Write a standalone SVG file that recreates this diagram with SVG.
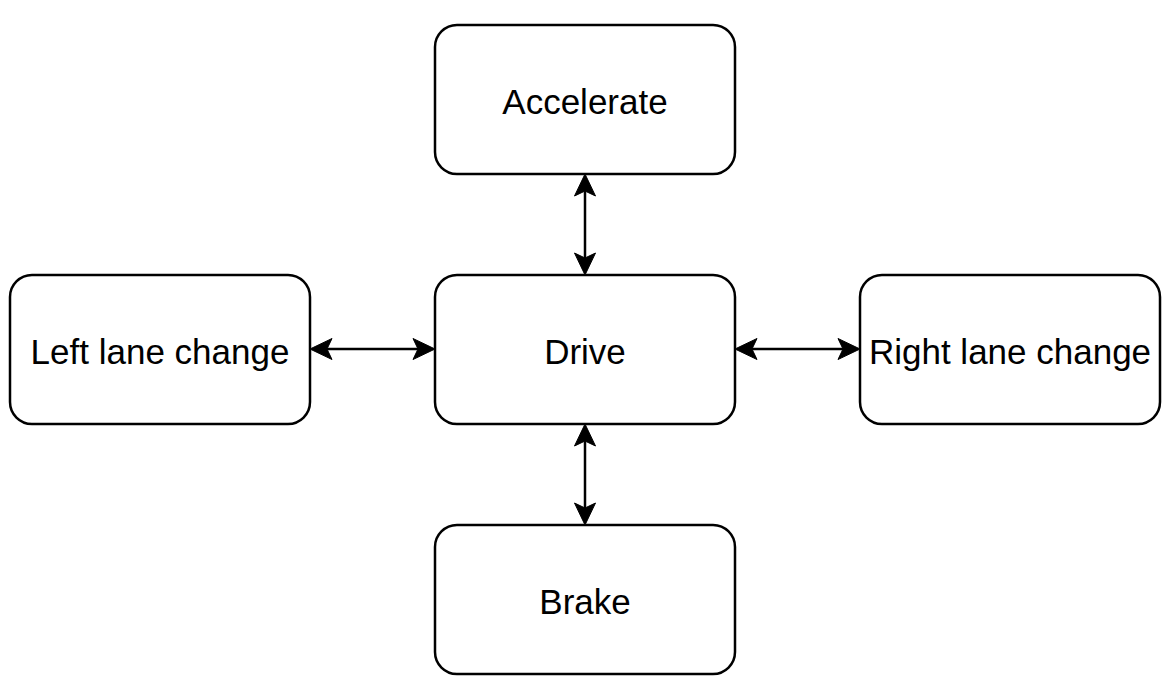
<svg xmlns="http://www.w3.org/2000/svg" width="1172" height="693" viewBox="0 0 1172 693">
<style>
.box{fill:#fff;stroke:#000;stroke-width:2.5}
.lbl{font-family:"Liberation Sans",Arial,sans-serif;font-size:35px;fill:#000;text-anchor:middle}
.con{fill:none;stroke:#000;stroke-width:2.5}
</style>
<defs>
<marker id="arr" markerUnits="userSpaceOnUse" viewBox="-20 -12 24 24" refX="-17" refY="0" markerWidth="24" markerHeight="24" orient="auto-start-reverse" overflow="visible">
<path d="M0,0 L-22,-10.5 L-17,0 L-22,10.5 Z" transform="translate(0,0)" fill="#000" stroke="#000" stroke-width="1"/>
</marker>
</defs>
<rect width="1172" height="693" fill="#fff"/>
<g id="connectors">
<path class="con" d="M585,191 L585,258" marker-start="url(#arr)" marker-end="url(#arr)"/>
<path class="con" d="M585,441 L585,508" marker-start="url(#arr)" marker-end="url(#arr)"/>
<path class="con" d="M327,349 L418,349" marker-start="url(#arr)" marker-end="url(#arr)"/>
<path class="con" d="M752,349 L843,349" marker-start="url(#arr)" marker-end="url(#arr)"/>
</g>
<g id="accelerate"><rect class="box" x="435" y="25" width="300" height="149" rx="22"/><text class="lbl" x="585" y="114">Accelerate</text></g>
<g id="drive"><rect class="box" x="435" y="275" width="300" height="149" rx="22"/><text class="lbl" x="585" y="364">Drive</text></g>
<g id="brake"><rect class="box" x="435" y="525" width="300" height="149" rx="22"/><text class="lbl" x="585" y="614">Brake</text></g>
<g id="left"><rect class="box" x="10" y="275" width="300" height="149" rx="22"/><text class="lbl" x="160" y="364">Left lane change</text></g>
<g id="right"><rect class="box" x="860" y="275" width="300" height="149" rx="22"/><text class="lbl" x="1010" y="364">Right lane change</text></g>
</svg>
